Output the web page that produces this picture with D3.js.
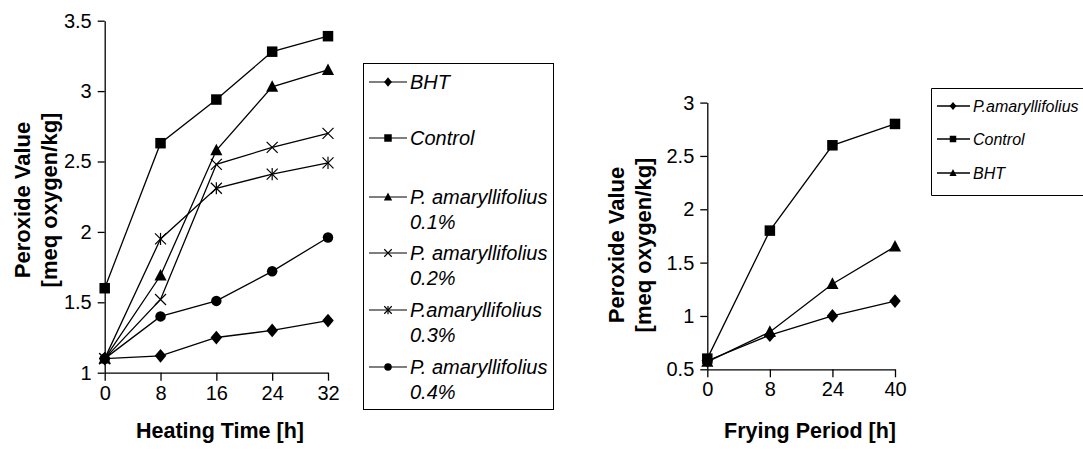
<!DOCTYPE html>
<html>
<head>
<meta charset="utf-8">
<script src="https://cdn.jsdelivr.net/npm/d3@7"></script>
<style>
  body { margin: 0; background: #fff; }
  svg { display: block; font-family: "Liberation Sans", Arial, sans-serif; }
</style>
</head>
<body>
<div id="chart"></div>
<script>
// ── Data: left panel (heating) ─────────────────────────────────
const heatHours = [0, 8, 16, 24, 32];
const heatBHT = [1.1, 1.12, 1.25, 1.3, 1.37];
const heatControl = [1.6, 2.63, 2.94, 3.28, 3.39];
const heatPa01 = [1.1, 1.69, 2.58, 3.03, 3.15];
const heatPa02 = [1.1, 1.52, 2.48, 2.6, 2.7];
const heatPa03 = [1.1, 1.95, 2.31, 2.41, 2.49];
const heatPa04 = [1.1, 1.4, 1.51, 1.72, 1.96];
const heatYTicks = [1, 1.5, 2, 2.5, 3, 3.5];

// ── Data: right panel (frying) ─────────────────────────────────
const fryHours = ['0', '8', '24', '40'];
const fryPa = [0.58, 0.82, 1.0, 1.14];
const fryControl = [0.6, 1.8, 2.6, 2.8];
const fryBHT = [0.57, 0.85, 1.3, 1.65];
const fryYTicks = [0.5, 1, 1.5, 2, 2.5, 3];

const W = 1083, H = 450;
const svg = d3.select('#chart').append('svg').attr('width', W).attr('height', H);

// marker shapes, s = nominal size in px
function marker(g, kind, s) {
  const h = s / 2;
  if (kind === 'square') {
    g.append('rect').attr('x', -h).attr('y', -h).attr('width', s).attr('height', s).attr('fill', '#000');
  } else if (kind === 'diamond') {
    g.append('path').attr('d', `M0,${-h * 1.25}L${h * 1.05},0L0,${h * 1.25}L${-h * 1.05},0Z`).attr('fill', '#000');
  } else if (kind === 'triangle') {
    g.append('path').attr('d', `M0,${-h * 1.2}L${h * 1.1},${h * 0.9}L${-h * 1.1},${h * 0.9}Z`).attr('fill', '#000');
  } else if (kind === 'circle') {
    g.append('circle').attr('r', h).attr('fill', '#000');
  } else if (kind === 'x' || kind === 'star') {
    g.append('path').attr('d', `M${-h},${-h}L${h},${h}M${-h},${h}L${h},${-h}`)
      .attr('stroke', '#000').attr('stroke-width', 1.2).attr('fill', 'none');
    if (kind === 'star') {
      g.append('path').attr('d', `M0,${-h * 1.1}L0,${h * 1.1}`)
        .attr('stroke', '#000').attr('stroke-width', 1.2);
    }
  }
}

function yTitle(cx, cy) {
  const t = svg.append('text')
    .attr('transform', `translate(${cx},${cy}) rotate(-90)`)
    .attr('text-anchor', 'middle').attr('font-weight', 'bold').attr('font-size', 22);
  t.append('tspan').attr('x', 0).attr('dy', 0).text('Peroxide Value');
  t.append('tspan').attr('x', 0).attr('dy', 27).text('[meq oxygen/kg]');
}

function drawSeries(xs, ys, vals, xKeys, kind, s) {
  const pts = vals.map((v, i) => [xs(xKeys[i]), ys(v)]);
  svg.append('path').attr('d', d3.line()(pts))
    .attr('fill', 'none').attr('stroke', '#000').attr('stroke-width', 1.3);
  pts.forEach((p) => marker(svg.append('g').attr('transform', `translate(${p[0]},${p[1]})`), kind, s));
}

function styleAxis(g) {
  g.selectAll('path, line').attr('stroke', '#000').attr('stroke-width', 1.3);
  g.selectAll('text').attr('font-size', 20).attr('fill', '#000').attr('font-family', '"Liberation Sans", Arial, sans-serif');
}

// ── Left panel ─────────────────────────────────────────────────
const xL = d3.scaleLinear().domain([0, 32]).range([104.7, 328]);
const yL = d3.scaleLinear().domain([1, 3.5]).range([372.7, 20.7]);

svg.append('g').attr('transform', 'translate(0,372.7)')
  .call(d3.axisBottom(xL).tickValues(heatHours).tickSize(8).tickPadding(5).tickSizeOuter(0))
  .call(styleAxis);
svg.append('g').attr('transform', 'translate(104.7,0)')
  .call(d3.axisLeft(yL).tickValues(heatYTicks).tickFormat(d3.format('')).tickSize(7).tickPadding(6).tickSizeOuter(0))
  .call(styleAxis);

drawSeries(xL, yL, heatBHT, heatHours, 'diamond', 11);
drawSeries(xL, yL, heatControl, heatHours, 'square', 10.5);
drawSeries(xL, yL, heatPa01, heatHours, 'triangle', 11);
drawSeries(xL, yL, heatPa02, heatHours, 'x', 11);
drawSeries(xL, yL, heatPa03, heatHours, 'star', 11);
drawSeries(xL, yL, heatPa04, heatHours, 'circle', 10.5);

svg.append('text').attr('x', 220).attr('y', 438).attr('text-anchor', 'middle')
  .attr('font-weight', 'bold').attr('font-size', 21.5).text('Heating Time [h]');
yTitle(30, 200);

// left legend
const legL = [
  { kind: 'diamond', lines: ['BHT'], y: 82 },
  { kind: 'square', lines: ['Control'], y: 138 },
  { kind: 'triangle', lines: ['P. amaryllifolius', '0.1%'], y: 197 },
  { kind: 'x', lines: ['P. amaryllifolius', '0.2%'], y: 253 },
  { kind: 'star', lines: ['P.amaryllifolius', '0.3%'], y: 310 },
  { kind: 'circle', lines: ['P. amaryllifolius', '0.4%'], y: 367 },
];
svg.append('rect').attr('x', 363.5).attr('y', 63.5).attr('width', 190).attr('height', 346)
  .attr('fill', 'none').attr('stroke', '#000').attr('stroke-width', 1);
legL.forEach((d) => {
  svg.append('line').attr('x1', 369).attr('x2', 407).attr('y1', d.y).attr('y2', d.y)
    .attr('stroke', '#000').attr('stroke-width', 1.2);
  marker(svg.append('g').attr('transform', `translate(388,${d.y})`), d.kind, 7.5);
  d.lines.forEach((s, i) => {
    svg.append('text').attr('x', 410).attr('y', d.y + 7 + i * 25)
      .attr('font-style', 'italic').attr('font-size', 20).text(s);
  });
});

// ── Right panel ────────────────────────────────────────────────
const xR = d3.scalePoint().domain(fryHours).range([707.3, 895]);
const yR = d3.scaleLinear().domain([0.5, 3]).range([369.3, 102.6]);

svg.append('g').attr('transform', 'translate(0,369.3)')
  .call(d3.axisBottom(xR).tickSize(8).tickPadding(5).tickSizeOuter(0))
  .call(styleAxis);
svg.append('g').attr('transform', 'translate(707.3,0)')
  .call(d3.axisLeft(yR).tickValues(fryYTicks).tickFormat(d3.format('')).tickSize(7).tickPadding(6).tickSizeOuter(0))
  .call(styleAxis);

drawSeries(xR, yR, fryPa, fryHours, 'diamond', 11);
drawSeries(xR, yR, fryControl, fryHours, 'square', 10.5);
drawSeries(xR, yR, fryBHT, fryHours, 'triangle', 11);

svg.append('text').attr('x', 810).attr('y', 438).attr('text-anchor', 'middle')
  .attr('font-weight', 'bold').attr('font-size', 21.5).text('Frying Period [h]');
yTitle(624, 245);

// right legend
const legR = [
  { kind: 'diamond', label: 'P.amaryllifolius', y: 106 },
  { kind: 'square', label: 'Control', y: 139 },
  { kind: 'triangle', label: 'BHT', y: 173 },
];
svg.append('path').attr('d', 'M1083,88.5H931.5V195.5H1083')
  .attr('fill', 'none').attr('stroke', '#000').attr('stroke-width', 1);
legR.forEach((d) => {
  svg.append('line').attr('x1', 937).attr('x2', 970).attr('y1', d.y).attr('y2', d.y)
    .attr('stroke', '#000').attr('stroke-width', 1.3);
  marker(svg.append('g').attr('transform', `translate(953,${d.y})`), d.kind, 6.5);
  svg.append('text').attr('x', 973).attr('y', d.y + 6)
    .attr('font-style', 'italic').attr('font-size', 16).text(d.label);
});
</script>
</body>
</html>
